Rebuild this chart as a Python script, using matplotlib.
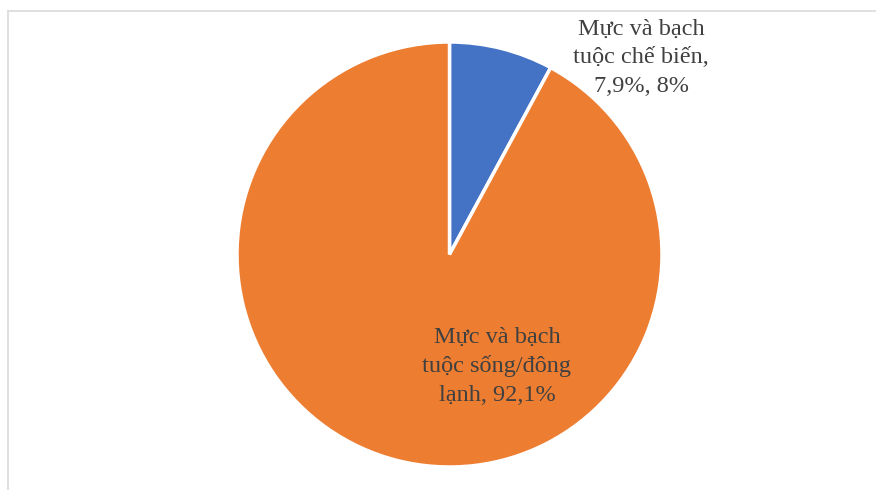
import matplotlib.pyplot as plt
from matplotlib.lines import Line2D

# Dữ liệu
nhan = ["Mực và bạch\ntuộc chế biến,\n7,9%, 8%", "Mực và bạch\ntuộc sống/đông\nlạnh, 92,1%"]
ty_le = [7.9, 92.1]
mau = ["#4472C4", "#ED7D31"]

W, H = 876, 490
fig = plt.figure(figsize=(W / 100, H / 100), dpi=100)
ax = fig.add_axes([0, 0, 1, 1])

# Khung viền nhạt (trên + trái)
ax.add_line(Line2D([7.5, 7.5], [0, H - 11.5], color="#DDDDDD", lw=1.3))
ax.add_line(Line2D([7.5, 875], [H - 11.5, H - 11.5], color="#DDDDDD", lw=1.3))

ax.pie(ty_le, colors=mau, startangle=90, counterclock=False,
       center=(449.5, H - 254.5), radius=212.5,
       wedgeprops=dict(edgecolor="white", linewidth=2.5),
       frame=True)
ax.set_xlim(0, W)
ax.set_ylim(0, H)
ax.set_aspect("equal")
ax.axis("off")

font = dict(family="Liberation Serif", fontsize=17.5, color="#404040",
            ha="center", va="center", linespacing=1.46)
ax.text(641, H - 58, nhan[0], **font)
ax.text(497, H - 366, nhan[1], **font)

fig.savefig("out.png", dpi=100)
